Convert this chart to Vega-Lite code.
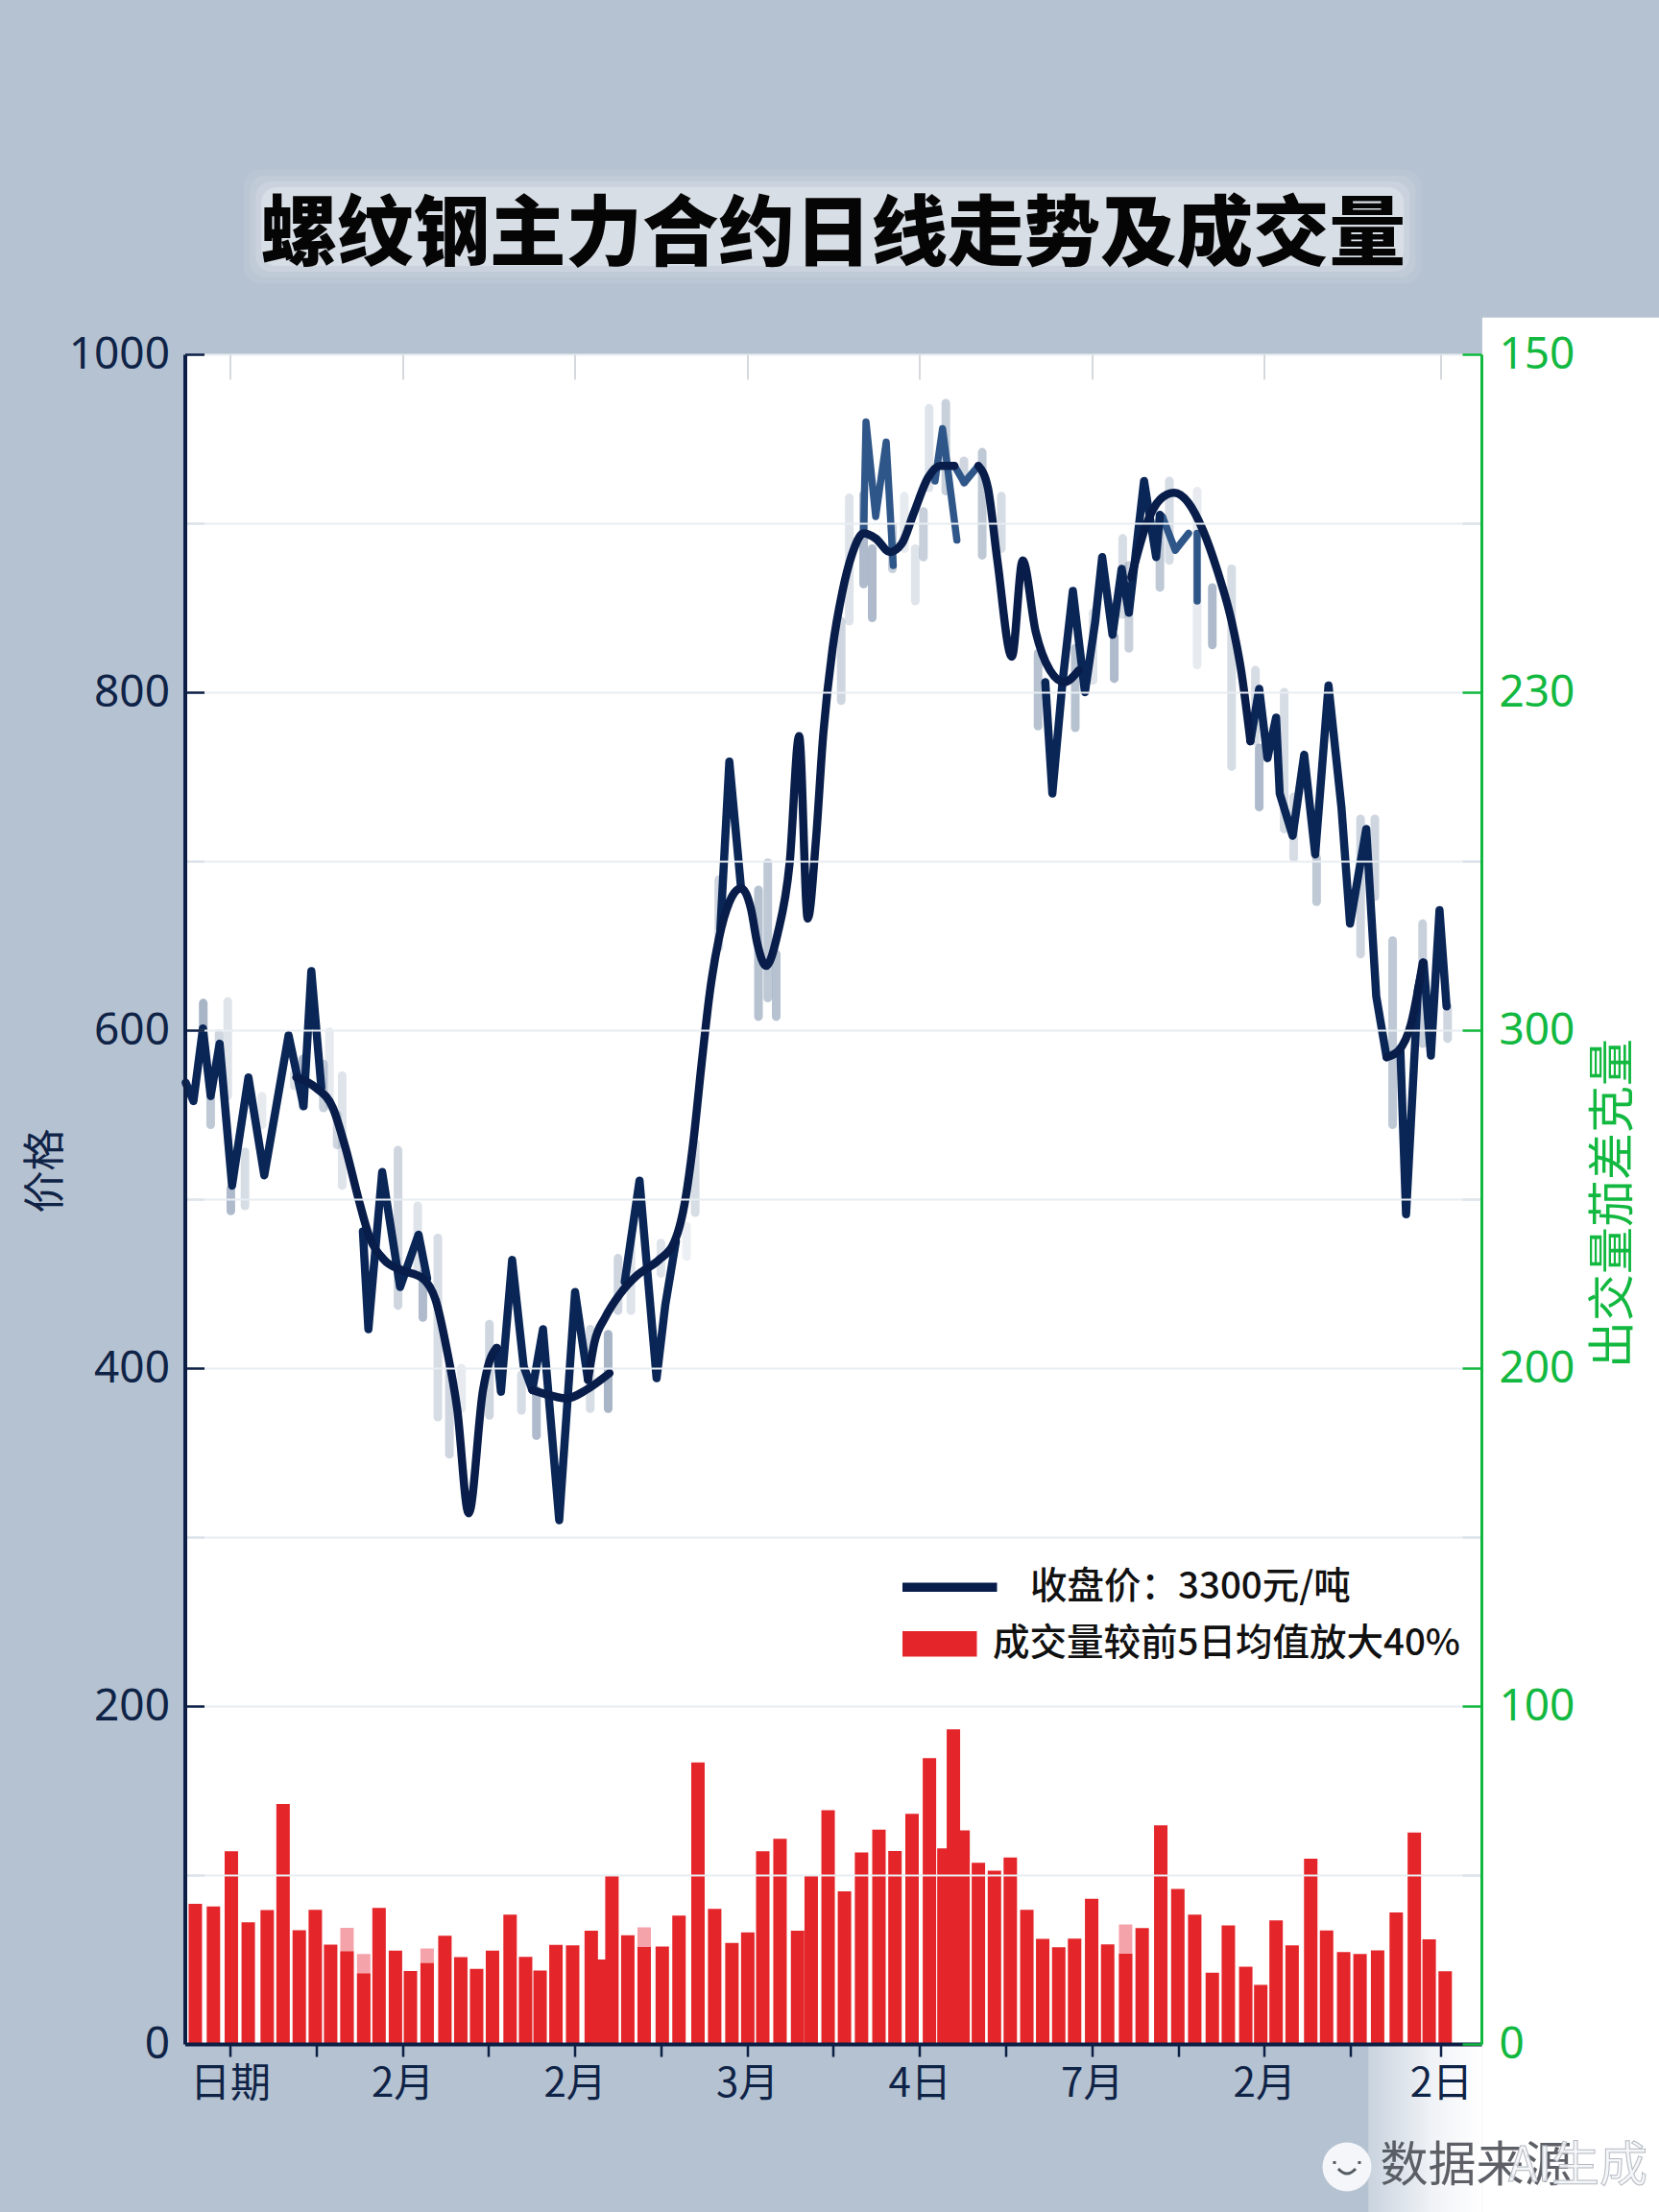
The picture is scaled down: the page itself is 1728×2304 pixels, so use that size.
{"$schema":"https://vega.github.io/schema/vega-lite/v6.json","width":1350.5,"height":1760,"autosize":"none","padding":{"left":192.5,"top":369,"right":185,"bottom":175},"background":"#b5c2d1","title":{"text":"螺纹钢主力合约日线走势及成交量","font":"Noto Sans CJK SC","fontSize":79.5,"fontWeight":900,"color":"#050505","anchor":"middle","offset":88,"dy":198},"config":{"view":{"fill":"#ffffff","stroke":null},"font":"Noto Sans CJK SC"},"datasets":{"volume":[{"day":-2.01,"volume":41.5},{"day":-0.96,"volume":40.7},{"day":0.08,"volume":57},{"day":1.06,"volume":36},{"day":2.16,"volume":39.6},{"day":3.08,"volume":71},{"day":4.02,"volume":33.7},{"day":4.95,"volume":39.7},{"day":5.84,"volume":29.4},{"day":6.79,"volume":27.4,"prior":34.4},{"day":7.76,"volume":20.9,"prior":26.6},{"day":8.65,"volume":40.3},{"day":9.6,"volume":27.6},{"day":10.47,"volume":21.6},{"day":11.44,"volume":23.9,"prior":28.3},{"day":12.47,"volume":32},{"day":13.39,"volume":25.7},{"day":14.31,"volume":22.2},{"day":15.23,"volume":27.6},{"day":16.25,"volume":38.3},{"day":17.15,"volume":25.8},{"day":17.99,"volume":21.7},{"day":18.91,"volume":29.3},{"day":19.88,"volume":29.2},{"day":20.96,"volume":33.5},{"day":21.7,"volume":25},{"day":22.16,"volume":50},{"day":23.08,"volume":32.2},{"day":24.03,"volume":28.7,"prior":34.5},{"day":25.08,"volume":28.8},{"day":26.05,"volume":38},{"day":27.15,"volume":83.3},{"day":28.12,"volume":40},{"day":29.12,"volume":29.9},{"day":30.04,"volume":33},{"day":30.91,"volume":57},{"day":31.91,"volume":60.7},{"day":32.93,"volume":33.5},{"day":33.72,"volume":49.9},{"day":34.7,"volume":69.2},{"day":35.65,"volume":45.2},{"day":36.64,"volume":56.7},{"day":37.65,"volume":63.4},{"day":38.58,"volume":57.1},{"day":39.57,"volume":68.1},{"day":40.58,"volume":84.6},{"day":41.42,"volume":57.9},{"day":41.97,"volume":93.1},{"day":42.53,"volume":63.2},{"day":43.42,"volume":53.6},{"day":44.35,"volume":51.3},{"day":45.27,"volume":55.2},{"day":46.23,"volume":39.7},{"day":47.15,"volume":31.1},{"day":48.08,"volume":28.6},{"day":49.0,"volume":31.2},{"day":49.99,"volume":43},{"day":50.92,"volume":29.5},{"day":51.96,"volume":26.7,"prior":35.4},{"day":52.92,"volume":34.3},{"day":54.0,"volume":64.7},{"day":54.99,"volume":45.9},{"day":55.97,"volume":38.3},{"day":56.99,"volume":21.1},{"day":57.92,"volume":35.1},{"day":58.93,"volume":22.9},{"day":59.8,"volume":17.5},{"day":60.69,"volume":36.6},{"day":61.62,"volume":29.2},{"day":62.7,"volume":54.8},{"day":63.62,"volume":33.6},{"day":64.61,"volume":27.2},{"day":65.56,"volume":26.6},{"day":66.58,"volume":27.7},{"day":67.66,"volume":38.9},{"day":68.71,"volume":62.6},{"day":69.57,"volume":31},{"day":70.5,"volume":21.5}],"glow":[{"x0":0.82,"x1":69.1,"top":1109.1,"bottom":1042.1,"weight":0.07},{"x0":1.15,"x1":68.77,"top":1105.7,"bottom":1045.5,"weight":0.1},{"x0":1.49,"x1":68.43,"top":1102.3,"bottom":1048.9,"weight":0.15},{"x0":1.82,"x1":68.1,"top":1098.9,"bottom":1052.3,"weight":0.28}],"range":[{"day":-1.55,"high":616,"low":588,"weight":0.55},{"day":-1.12,"high":561,"low":544,"weight":0.4},{"day":-0.63,"high":598,"low":583,"weight":0.3},{"day":-0.13,"high":617,"low":561,"weight":0.2},{"day":0.05,"high":506,"low":493,"weight":0.5},{"day":0.87,"high":528,"low":496,"weight":0.25},{"day":1.86,"high":561,"low":544,"weight":0.15},{"day":3.73,"high":574,"low":567,"weight":0.2},{"day":4.23,"high":583,"low":555,"weight":0.5},{"day":5.42,"high":580,"low":554,"weight":0.35},{"day":5.77,"high":599,"low":555,"weight":0.15},{"day":6.22,"high":550,"low":532,"weight":0.3},{"day":6.51,"high":573,"low":508,"weight":0.2},{"day":9.75,"high":529,"low":437,"weight":0.3},{"day":10.89,"high":496,"low":456,"weight":0.2},{"day":11.19,"high":456,"low":430,"weight":0.5},{"day":12.06,"high":477,"low":371,"weight":0.25},{"day":12.73,"high":401,"low":349,"weight":0.3},{"day":13.43,"high":400,"low":376,"weight":0.15},{"day":15.05,"high":426,"low":372,"weight":0.3},{"day":16.91,"high":396,"low":375,"weight":0.25},{"day":17.78,"high":387,"low":360,"weight":0.5},{"day":20.9,"high":423,"low":376,"weight":0.25},{"day":21.94,"high":420,"low":376,"weight":0.55},{"day":22.51,"high":465,"low":434,"weight":0.3},{"day":23.26,"high":477,"low":434,"weight":0.2},{"day":25.0,"high":474,"low":456,"weight":0.2},{"day":26.49,"high":484,"low":466,"weight":0.12},{"day":26.99,"high":533,"low":492,"weight":0.25},{"day":28.36,"high":689,"low":649,"weight":0.3},{"day":30.66,"high":683,"low":608,"weight":0.45},{"day":31.2,"high":699,"low":619,"weight":0.4},{"day":31.69,"high":645,"low":608,"weight":0.45},{"day":35.46,"high":842,"low":795,"weight":0.3},{"day":35.93,"high":915,"low":842,"weight":0.2},{"day":36.76,"high":917,"low":864,"weight":0.5},{"day":37.26,"high":885,"low":844,"weight":0.5},{"day":38.43,"high":898,"low":873,"weight":0.35},{"day":39.12,"high":916,"low":885,"weight":0.15},{"day":39.76,"high":885,"low":854,"weight":0.2},{"day":40.23,"high":907,"low":880,"weight":0.35},{"day":40.56,"high":968,"low":921,"weight":0.2},{"day":41.53,"high":971,"low":919,"weight":0.35},{"day":42.58,"high":937,"low":924,"weight":0.3},{"day":43.64,"high":942,"low":881,"weight":0.4},{"day":44.75,"high":916,"low":885,"weight":0.25},{"day":46.88,"high":823,"low":780,"weight":0.45},{"day":49.04,"high":826,"low":779,"weight":0.45},{"day":50.07,"high":847,"low":807,"weight":0.2},{"day":51.3,"high":833,"low":808,"weight":0.5},{"day":51.79,"high":891,"low":846,"weight":0.25},{"day":52.15,"high":875,"low":826,"weight":0.35},{"day":53.95,"high":904,"low":862,"weight":0.4},{"day":54.5,"high":925,"low":878,"weight":0.25},{"day":56.11,"high":919,"low":816,"weight":0.15},{"day":56.99,"high":862,"low":828,"weight":0.5},{"day":58.11,"high":873,"low":756,"weight":0.25},{"day":59.49,"high":813,"low":771,"weight":0.25},{"day":59.71,"high":767,"low":732,"weight":0.5},{"day":61.16,"high":800,"low":719,"weight":0.25},{"day":61.71,"high":738,"low":702,"weight":0.25},{"day":63.04,"high":702,"low":676,"weight":0.4},{"day":65.59,"high":725,"low":645,"weight":0.3},{"day":66.42,"high":725,"low":679,"weight":0.3},{"day":67.45,"high":653,"low":544,"weight":0.4},{"day":69.19,"high":663,"low":592,"weight":0.35},{"day":70.64,"high":614,"low":595,"weight":0.3}],"closeFaded":[{"seg":"a","day":36.76,"price":894},{"seg":"a","day":36.9,"price":960},{"seg":"a","day":37.46,"price":904},{"seg":"a","day":38.07,"price":948},{"seg":"a","day":38.48,"price":875},{"seg":"b","day":40.9,"price":925},{"seg":"b","day":41.34,"price":956},{"seg":"b","day":42.17,"price":890},{"seg":"c","day":53.95,"price":905},{"seg":"c","day":54.09,"price":904},{"seg":"c","day":54.84,"price":884},{"seg":"c","day":55.61,"price":894},{"seg":"d","day":56.11,"price":894},{"seg":"d","day":56.11,"price":854},{"seg":"e","day":42.03,"price":934},{"seg":"e","day":42.6,"price":924},{"seg":"e","day":43.42,"price":934}],"close":[{"seg":"a","day":-2.57,"price":569},{"seg":"a","day":-2.12,"price":558},{"seg":"a","day":-1.57,"price":601},{"seg":"a","day":-1.12,"price":561},{"seg":"a","day":-0.6,"price":592},{"seg":"a","day":0.12,"price":508},{"seg":"a","day":1.07,"price":572},{"seg":"a","day":1.99,"price":514},{"seg":"a","day":3.4,"price":597},{"seg":"a","day":4.27,"price":555},{"seg":"a","day":4.72,"price":635},{"seg":"a","day":5.3,"price":566},{"seg":"b","day":7.71,"price":481},{"seg":"b","day":8.03,"price":423},{"seg":"b","day":8.83,"price":516},{"seg":"b","day":9.87,"price":448},{"seg":"b","day":10.94,"price":479},{"seg":"b","day":11.44,"price":453},{"seg":"c","day":15.47,"price":412},{"seg":"c","day":15.72,"price":386},{"seg":"c","day":16.37,"price":464},{"seg":"c","day":17.04,"price":401},{"seg":"c","day":17.54,"price":387},{"seg":"c","day":18.16,"price":423},{"seg":"c","day":19.1,"price":310},{"seg":"c","day":20.02,"price":445},{"seg":"c","day":20.77,"price":393},{"seg":"d","day":22.9,"price":451},{"seg":"d","day":23.76,"price":511},{"seg":"d","day":24.75,"price":394},{"seg":"d","day":25.25,"price":437},{"seg":"d","day":25.87,"price":475},{"seg":"h","day":28.45,"price":660},{"seg":"h","day":28.97,"price":759},{"seg":"h","day":29.65,"price":684},{"seg":"e","day":47.3,"price":806},{"seg":"e","day":47.71,"price":740},{"seg":"e","day":48.3,"price":806},{"seg":"e","day":48.9,"price":860},{"seg":"e","day":49.6,"price":800},{"seg":"e","day":50.2,"price":842},{"seg":"e","day":50.6,"price":880},{"seg":"e","day":51.2,"price":834},{"seg":"e","day":51.73,"price":873},{"seg":"e","day":52.15,"price":847},{"seg":"e","day":53.03,"price":925},{"seg":"e","day":53.73,"price":880},{"seg":"e","day":53.95,"price":905},{"seg":"f","day":59.2,"price":771},{"seg":"f","day":59.71,"price":802},{"seg":"f","day":60.19,"price":761},{"seg":"f","day":60.69,"price":785},{"seg":"f","day":60.9,"price":740},{"seg":"f","day":61.65,"price":715},{"seg":"f","day":62.32,"price":763},{"seg":"f","day":62.96,"price":704},{"seg":"f","day":63.73,"price":804},{"seg":"f","day":64.48,"price":732},{"seg":"f","day":64.98,"price":663},{"seg":"f","day":65.92,"price":719},{"seg":"f","day":66.5,"price":620},{"seg":"f","day":67.1,"price":584},{"seg":"g","day":67.9,"price":588},{"seg":"g","day":68.23,"price":491},{"seg":"g","day":68.92,"price":624},{"seg":"g","day":69.25,"price":640},{"seg":"g","day":69.67,"price":585},{"seg":"g","day":70.17,"price":671},{"seg":"g","day":70.58,"price":614}],"trend":[{"seg":"a","day":3.85,"price":572},{"seg":"a","day":4.97,"price":566},{"seg":"a","day":5.97,"price":554},{"seg":"a","day":6.71,"price":530},{"seg":"a","day":7.46,"price":500},{"seg":"a","day":8.08,"price":478},{"seg":"a","day":8.95,"price":464},{"seg":"a","day":9.95,"price":458},{"seg":"a","day":11.19,"price":453},{"seg":"a","day":11.94,"price":440},{"seg":"a","day":12.56,"price":412},{"seg":"a","day":13.18,"price":376},{"seg":"a","day":13.85,"price":314},{"seg":"a","day":14.68,"price":387},{"seg":"a","day":15.05,"price":404},{"seg":"a","day":15.47,"price":412},{"seg":"b","day":17.54,"price":387},{"seg":"b","day":18.53,"price":384},{"seg":"b","day":19.53,"price":382},{"seg":"b","day":20.65,"price":387},{"seg":"b","day":22.02,"price":397},{"seg":"c","day":20.77,"price":393},{"seg":"c","day":21.14,"price":415},{"seg":"c","day":21.77,"price":430},{"seg":"c","day":22.64,"price":444},{"seg":"c","day":23.63,"price":455},{"seg":"c","day":24.88,"price":464},{"seg":"c","day":25.75,"price":474},{"seg":"c","day":26.37,"price":497},{"seg":"c","day":26.87,"price":533},{"seg":"c","day":27.36,"price":580},{"seg":"c","day":27.86,"price":624},{"seg":"c","day":28.36,"price":654},{"seg":"c","day":28.98,"price":676},{"seg":"c","day":29.65,"price":684},{"seg":"c","day":30.22,"price":672},{"seg":"c","day":30.6,"price":651},{"seg":"c","day":31.1,"price":638},{"seg":"c","day":31.77,"price":657},{"seg":"c","day":32.47,"price":699},{"seg":"c","day":33.02,"price":774},{"seg":"c","day":33.52,"price":666},{"seg":"c","day":33.99,"price":712},{"seg":"c","day":34.41,"price":774},{"seg":"c","day":34.96,"price":826},{"seg":"c","day":35.52,"price":859},{"seg":"c","day":36.07,"price":881},{"seg":"c","day":36.76,"price":894},{"seg":"c","day":37.46,"price":891},{"seg":"c","day":38.29,"price":883},{"seg":"c","day":38.98,"price":888},{"seg":"c","day":39.67,"price":906},{"seg":"c","day":40.5,"price":927},{"seg":"c","day":41.2,"price":934},{"seg":"c","day":42.03,"price":934},{"seg":"d","day":43.42,"price":934},{"seg":"d","day":43.97,"price":921},{"seg":"d","day":44.52,"price":878},{"seg":"d","day":45.36,"price":821},{"seg":"d","day":45.99,"price":878},{"seg":"d","day":46.74,"price":836},{"seg":"d","day":47.57,"price":813},{"seg":"d","day":48.4,"price":806},{"seg":"d","day":49.24,"price":813},{"seg":"e","day":52.29,"price":868},{"seg":"e","day":53.12,"price":898},{"seg":"e","day":53.95,"price":914},{"seg":"e","day":54.78,"price":918},{"seg":"e","day":55.61,"price":912},{"seg":"e","day":56.44,"price":896},{"seg":"e","day":57.28,"price":872},{"seg":"e","day":58.11,"price":842},{"seg":"e","day":58.66,"price":813},{"seg":"e","day":59.2,"price":771},{"seg":"f","day":67.1,"price":584},{"seg":"f","day":67.81,"price":588},{"seg":"f","day":68.5,"price":603},{"seg":"f","day":69.2,"price":640}]},"layer":[{"layer":[{"data":{"values":[{"part":"panel"}]},"mark":{"type":"rect","color":"#ffffff"},"encoding":{"x":{"datum":72.65,"type":"quantitative","scale":{"domain":[-2.62,72.6],"nice":false,"zero":false,"padding":0},"title":null,"axis":{"orient":"bottom","title":null,"values":[0,5,10,15,20,25,30,35,40,45,50,55,60,65,70.25],"labelExpr":"datum.value==0?'日期':datum.value==10?'2月':datum.value==20?'2月':datum.value==30?'3月':datum.value==40?'4日':datum.value==50?'7月':datum.value==60?'2月':datum.value==70.25?'2日':''","labelFontSize":42,"labelColor":"#0f2347","labelPadding":8,"labelOverlap":false,"labelFlush":false,"labelBound":false,"tickSize":13,"tickWidth":2.5,"tickColor":"#0c1f45","domainColor":"#0c1f45","domainWidth":4,"grid":false,"zindex":1}},"x2":{"datum":90},"y":{"datum":1021.7,"type":"quantitative","scale":{"domain":[0,1000],"nice":false,"zero":false},"axis":{"orient":"left","title":"价格","values":[0,100,200,300,400,500,600,700,800,900,1000],"labelExpr":"datum.value%200==0?datum.label:''","format":"d","labelFont":"Noto Sans","labelFontSize":46,"labelColor":"#0f2347","labelPadding":36,"labelOverlap":false,"labelFlush":false,"labelBound":false,"tickSize":-20,"tickWidth":2.5,"tickColor":{"condition":{"test":"datum.value%200==0","value":"#0c1f45"},"value":"#dde3ea"},"domainColor":"#0c1f45","domainWidth":4,"grid":true,"gridColor":"#e8edf2","gridWidth":2,"titleFontSize":44,"titleFontWeight":"normal","titleColor":"#0f2347","titleAngle":270,"titleX":-144,"titleY":850,"titleAlign":"center","titleBaseline":"middle","zindex":1}},"y2":{"datum":-110}}},{"data":{"values":[{"part":"strip"}]},"mark":{"type":"rect","color":{"gradient":"linear","x1":0,"y1":0,"x2":1,"y2":0,"stops":[{"offset":0,"color":"#c9d3de"},{"offset":0.55,"color":"#eff2f6"},{"offset":1,"color":"#ffffff"}]}},"encoding":{"x":{"datum":66.04},"x2":{"datum":72.65},"y":{"datum":0},"y2":{"datum":-110}}},{"data":{"name":"glow"},"mark":{"type":"rect","color":"#ffffff","cornerRadius":16},"encoding":{"x":{"field":"x0","type":"quantitative"},"x2":{"field":"x1"},"y":{"field":"top","type":"quantitative"},"y2":{"field":"bottom"},"opacity":{"field":"weight","type":"quantitative","scale":{"domain":[0,1],"range":[0,1]},"legend":null}}},{"data":{"name":"range"},"mark":{"type":"rule","color":"#5f7899","strokeWidth":9,"strokeCap":"round"},"encoding":{"x":{"field":"day","type":"quantitative"},"y":{"field":"high","type":"quantitative"},"y2":{"field":"low"},"opacity":{"field":"weight","type":"quantitative"}}},{"data":{"name":"closeFaded"},"mark":{"type":"line","color":"#2f5688","strokeWidth":7.5,"strokeCap":"round","strokeJoin":"round"},"encoding":{"x":{"field":"day","type":"quantitative"},"y":{"field":"price","type":"quantitative"},"detail":{"field":"seg"}}},{"data":{"name":"close"},"mark":{"type":"line","color":"#0a2657","strokeWidth":8.5,"strokeCap":"round","strokeJoin":"round"},"encoding":{"x":{"field":"day","type":"quantitative"},"y":{"field":"price","type":"quantitative"},"detail":{"field":"seg"}}},{"data":{"name":"trend"},"mark":{"type":"line","interpolate":"monotone","strokeWidth":8.5,"strokeCap":"round","strokeJoin":"round"},"encoding":{"x":{"field":"day","type":"quantitative"},"y":{"field":"price","type":"quantitative"},"detail":{"field":"seg"},"color":{"datum":"收盘价：3300元/吨","type":"nominal","scale":{"domain":["收盘价：3300元/吨","成交量较前5日均值放大40%"],"range":["#081d4a","#e4262b"]},"legend":{"orient":"none","legendX":739,"legendY":1265,"title":null,"padding":0,"labelFontSize":38.5,"labelFontWeight":500,"labelColor":"#111111","labelLimit":700,"symbolSize":400,"labelOffset":64,"rowPadding":20,"encode":{"symbols":{"update":{"shape":{"signal":"datum.index==0?'M-1,-0.4H8.7V0.4H-1Z':'M-1,-1.25H6.6V1.25H-1Z'"},"fill":{"signal":"datum.index==0?'#081d4a':'#e4262b'"},"stroke":{"value":"transparent"}}},"labels":{"update":{"dx":{"signal":"datum.index==0?39:0"}}}}}}}},{"data":{"values":[{"part":"source"}]},"mark":{"type":"text","text":"数据来源","fontSize":50,"color":"#4b4f55","fillOpacity":0.9,"baseline":"middle"},"encoding":{"x":{"datum":72.3},"y":{"datum":-72.7}}},{"data":{"values":[{"part":"source"}]},"mark":{"type":"text","text":"AI生成","fontSize":50,"color":"#f4f5f7","stroke":"#b4bac2","strokeWidth":1,"fillOpacity":0.9,"baseline":"middle"},"encoding":{"x":{"datum":78.2},"y":{"datum":-72.7}}},{"data":{"values":[{"part":"mark"}]},"mark":{"type":"point","shape":"circle","filled":true,"size":2600,"color":"#f4f6f9","opacity":1},"encoding":{"x":{"datum":64.8},"y":{"datum":-72.7}}},{"data":{"values":[{"part":"mark"}]},"mark":{"type":"point","shape":"M-0.45,0.1Q0,0.6 0.45,0.1M-0.65,-0.3V-0.15M0.65,-0.3V-0.15","filled":false,"size":1600,"color":"#555b63","strokeWidth":3,"opacity":1},"encoding":{"x":{"datum":64.8},"y":{"datum":-72.7}}}]},{"layer":[{"data":{"name":"volume"},"mark":{"type":"bar","width":14,"color":"#f5a3aa"},"encoding":{"x":{"field":"day","type":"quantitative","scale":{"domain":[-2.62,72.6],"nice":false,"zero":false,"padding":0},"axis":{"orient":"top","title":null,"values":[0,10,20,30,40,50,60,70.25],"labels":false,"domain":false,"ticks":true,"tickSize":-26,"tickWidth":2,"tickColor":"#d5d9de","grid":false,"zindex":1}},"y":{"field":"prior","type":"quantitative","scale":{"domain":[0,500],"nice":false,"zero":false},"axis":{"orient":"right","title":"出交量茄差克量","values":[0,50,100,150,200,250,300,350,400,450,500],"labelExpr":"datum.value==400?'230':datum.value==500?'150':datum.value%100==0?datum.label:''","format":"d","labelFont":"Noto Sans","labelFontSize":46,"labelColor":"#12b83f","labelPadding":38,"labelOverlap":false,"labelFlush":false,"labelBound":false,"tickSize":-20,"tickWidth":2.5,"tickColor":{"condition":{"test":"datum.value%100==0","value":"#12b83f"},"value":"#dde3ea"},"domainColor":"#12b83f","domainWidth":3,"grid":false,"titleFontSize":49,"titleFontWeight":"normal","titleColor":"#12b83f","titleAngle":270,"titleX":137,"titleY":884,"titleAlign":"center","titleBaseline":"middle","zindex":2}}}},{"data":{"name":"volume"},"mark":{"type":"bar","width":14},"encoding":{"x":{"field":"day","type":"quantitative"},"y":{"field":"volume","type":"quantitative"},"color":{"datum":"成交量较前5日均值放大40%","type":"nominal"}}}]}],"resolve":{"scale":{"y":"independent"},"axis":{"x":"independent"}}}
